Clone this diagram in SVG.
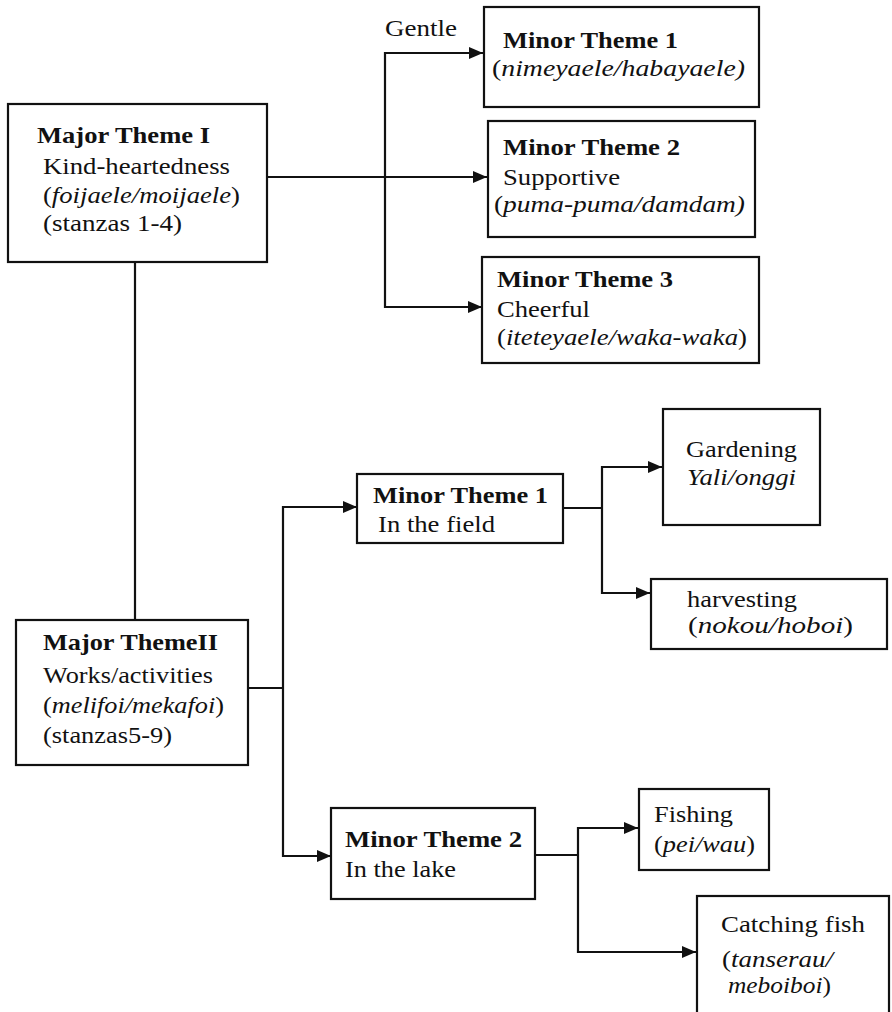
<svg xmlns="http://www.w3.org/2000/svg" width="892" height="1012" viewBox="0 0 892 1012">
<style>
.box{fill:#fff;stroke:#111;stroke-width:2.2}
.t{font-family:"Liberation Serif","Times New Roman",serif;font-size:24px;fill:#111}
.b{font-weight:bold}
.i{font-style:italic}
.c{fill:none;stroke:#111;stroke-width:2.2}
</style>
<defs>
<marker id="arr" markerUnits="userSpaceOnUse" markerWidth="14" markerHeight="12" refX="14" refY="6" orient="auto">
<path d="M0,0 L14,6 L0,12 z" fill="#111"/>
</marker>
</defs>
<rect width="892" height="1012" fill="#fff"/>
<g id="connectors">
<path class="c" d="M267,177 H487" marker-end="url(#arr)"/>
<path class="c" d="M385,177 V53 H483" marker-end="url(#arr)"/>
<path class="c" d="M385,177 V307 H482" marker-end="url(#arr)"/>
<path class="c" d="M135,262 V620"/>
<path class="c" d="M248,688 H283"/>
<path class="c" d="M283,688 V507 H357" marker-end="url(#arr)"/>
<path class="c" d="M283,688 V856 H331" marker-end="url(#arr)"/>
<path class="c" d="M563,508 H602"/>
<path class="c" d="M602,508 V467 H662" marker-end="url(#arr)"/>
<path class="c" d="M602,508 V593 H650" marker-end="url(#arr)"/>
<path class="c" d="M535,855 H578"/>
<path class="c" d="M578,855 V828 H638" marker-end="url(#arr)"/>
<path class="c" d="M578,855 V952 H696" marker-end="url(#arr)"/>
<text class="t" x="385" y="36" textLength="72" lengthAdjust="spacingAndGlyphs">Gentle</text>
</g>
<g id="major1">
<rect class="box" x="8" y="104" width="259" height="158"/>
<text class="t b" x="37" y="143" textLength="173" lengthAdjust="spacingAndGlyphs">Major Theme I</text>
<text class="t" x="43" y="174" textLength="187" lengthAdjust="spacingAndGlyphs">Kind-heartedness</text>
<text class="t" x="43" y="203" textLength="197" lengthAdjust="spacingAndGlyphs">(<tspan class="i">foijaele/moijaele</tspan>)</text>
<text class="t" x="43" y="231" textLength="139" lengthAdjust="spacingAndGlyphs">(stanzas 1-4)</text>
</g>
<g id="minor1top">
<rect class="box" x="484" y="7" width="275" height="100"/>
<text class="t b" x="503" y="48" textLength="175" lengthAdjust="spacingAndGlyphs">Minor Theme 1</text>
<text class="t" x="492" y="76" textLength="253" lengthAdjust="spacingAndGlyphs">(<tspan class="i">nimeyaele/habayaele)</tspan></text>
</g>
<g id="minor2top">
<rect class="box" x="488" y="121" width="267" height="116"/>
<text class="t b" x="503" y="155" textLength="177" lengthAdjust="spacingAndGlyphs">Minor Theme 2</text>
<text class="t" x="503" y="185" textLength="117" lengthAdjust="spacingAndGlyphs">Supportive</text>
<text class="t" x="494" y="212" textLength="251" lengthAdjust="spacingAndGlyphs">(<tspan class="i">puma-puma/damdam)</tspan></text>
</g>
<g id="minor3top">
<rect class="box" x="482" y="257" width="277" height="106"/>
<text class="t b" x="497" y="287" textLength="176" lengthAdjust="spacingAndGlyphs">Minor Theme 3</text>
<text class="t" x="497" y="317" textLength="93" lengthAdjust="spacingAndGlyphs">Cheerful</text>
<text class="t" x="497" y="345" textLength="250" lengthAdjust="spacingAndGlyphs">(<tspan class="i">iteteyaele/waka-waka</tspan>)</text>
</g>
<g id="major2">
<rect class="box" x="16" y="620" width="232" height="145"/>
<text class="t b" x="43" y="650" textLength="175" lengthAdjust="spacingAndGlyphs">Major ThemeII</text>
<text class="t" x="43" y="683" textLength="170" lengthAdjust="spacingAndGlyphs">Works/activities</text>
<text class="t" x="43" y="713" textLength="181" lengthAdjust="spacingAndGlyphs">(<tspan class="i">melifoi/mekafoi</tspan>)</text>
<text class="t" x="43" y="743" textLength="129" lengthAdjust="spacingAndGlyphs">(stanzas5-9)</text>
</g>
<g id="minor1mid">
<rect class="box" x="357" y="474" width="206" height="69"/>
<text class="t b" x="373" y="503" textLength="175" lengthAdjust="spacingAndGlyphs">Minor Theme 1</text>
<text class="t" x="378" y="532" textLength="117" lengthAdjust="spacingAndGlyphs">In the field</text>
</g>
<g id="gardening">
<rect class="box" x="663" y="409" width="157" height="116"/>
<text class="t" x="686" y="457" textLength="111" lengthAdjust="spacingAndGlyphs">Gardening</text>
<text class="t i" x="687" y="485" textLength="109" lengthAdjust="spacingAndGlyphs">Yali/onggi</text>
</g>
<g id="harvesting">
<rect class="box" x="651" y="579" width="236" height="70"/>
<text class="t" x="687" y="607" textLength="110" lengthAdjust="spacingAndGlyphs">harvesting</text>
<text class="t" x="688" y="633" textLength="165" lengthAdjust="spacingAndGlyphs">(<tspan class="i">nokou/hoboi</tspan>)</text>
</g>
<g id="minor2bottom">
<rect class="box" x="331" y="808" width="204" height="91"/>
<text class="t b" x="345" y="847" textLength="177" lengthAdjust="spacingAndGlyphs">Minor Theme 2</text>
<text class="t" x="345" y="877" textLength="111" lengthAdjust="spacingAndGlyphs">In the lake</text>
</g>
<g id="fishing">
<rect class="box" x="639" y="789" width="130" height="81"/>
<text class="t" x="654" y="822" textLength="79" lengthAdjust="spacingAndGlyphs">Fishing</text>
<text class="t" x="654" y="852" textLength="101" lengthAdjust="spacingAndGlyphs">(<tspan class="i">pei/wau</tspan>)</text>
</g>
<g id="catching">
<rect class="box" x="697" y="896" width="192" height="125"/>
<text class="t" x="721" y="932" textLength="144" lengthAdjust="spacingAndGlyphs">Catching fish</text>
<text class="t" x="722" y="967" textLength="111" lengthAdjust="spacingAndGlyphs">(<tspan class="i">tanserau/</tspan></text>
<text class="t" x="728" y="993" textLength="103" lengthAdjust="spacingAndGlyphs"><tspan class="i">meboiboi</tspan>)</text>
</g>
</svg>
